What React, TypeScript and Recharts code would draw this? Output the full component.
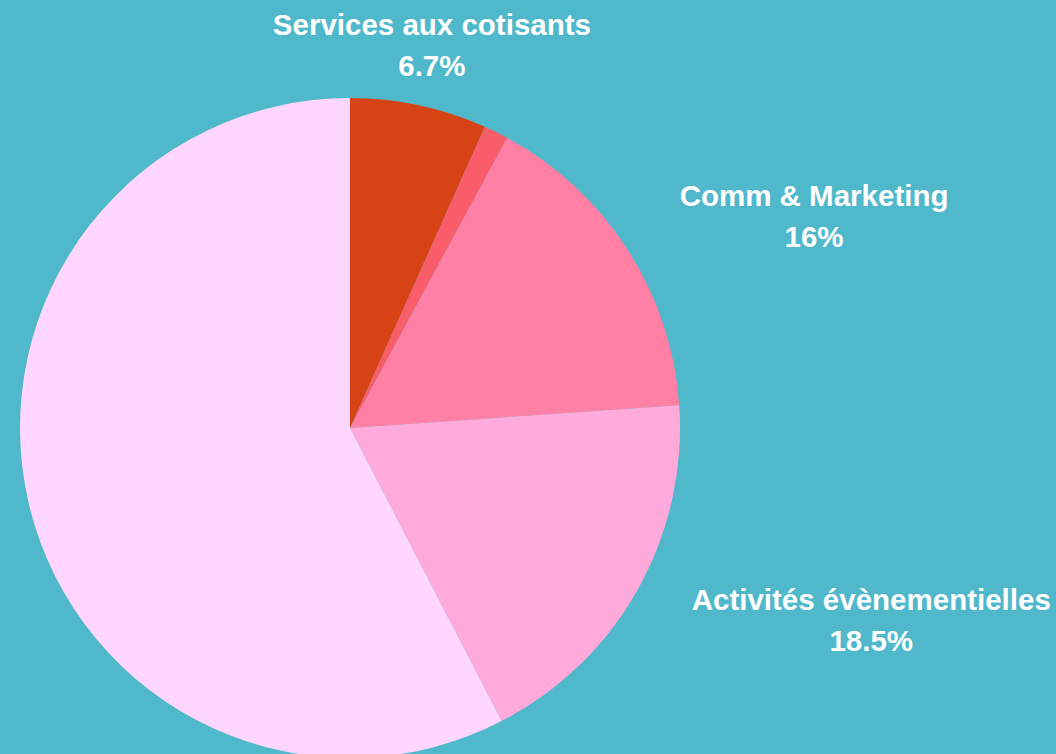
import { PieChart, Pie, Cell } from 'recharts';

const categories = [
  'Services aux cotisants',
  'Frais divers',
  'Comm & Marketing',
  'Activités évènementielles',
  'Fonctionnement',
];
const shares = [6.7, 1.2, 16, 18.5, 57.6];
const sliceColors = ['#D84315', '#F95D6A', '#FF80A4', '#FFAADB', '#FFD6FF'];
const labelledCategories = ['Services aux cotisants', 'Comm & Marketing', 'Activités évènementielles'];

const data = categories.map((name, i) => ({ name, value: shares[i] }));

const RADIAN = Math.PI / 180;
const FONT = 'bold 29.5px "Liberation Sans", Arial, sans-serif';

let ctx: CanvasRenderingContext2D | null = null;
function measure(text: string) {
  if (!ctx) ctx = document.createElement('canvas').getContext('2d');
  if (!ctx) return text.length * 15;
  ctx.font = FONT;
  return ctx.measureText(text).width;
}

function renderLabel(props: any) {
  const { cx, cy, midAngle, outerRadius, name, value } = props;
  if (!labelledCategories.includes(name)) return null;
  const r = outerRadius + 62;
  const cos = Math.cos(-midAngle * RADIAN);
  const x = cx + r * cos;
  const y = cy + r * Math.sin(-midAngle * RADIAN);
  const line2 = `${value}%`;
  const w = Math.max(measure(name), measure(line2));
  let bx = x;
  if (Math.abs(cos) >= 0.5) bx = cos > 0 ? x + w / 2 : x - w / 2;
  return (
    <text
      x={bx}
      y={y}
      fill="#ffffff"
      textAnchor="middle"
      style={{ font: FONT }}
    >
      <tspan x={bx} y={y - 10}>{name}</tspan>
      <tspan x={bx} y={y + 31}>{line2}</tspan>
    </text>
  );
}

export default function App() {
  return (
    <div
      style={{
        position: 'absolute',
        left: 0,
        top: 0,
        width: 1056,
        height: 754,
        background: '#4FB8CA',
        overflow: 'hidden',
      }}
    >
      <PieChart width={1056} height={754}>
        <Pie
          data={data}
          dataKey="value"
          nameKey="name"
          cx={345}
          cy={423}
          outerRadius={330}
          startAngle={90}
          endAngle={-270}
          stroke="none"
          label={renderLabel}
          labelLine={false}
          isAnimationActive={false}
        >
          {data.map((d, i) => (
            <Cell key={d.name} fill={sliceColors[i]} />
          ))}
        </Pie>
      </PieChart>
    </div>
  );
}
